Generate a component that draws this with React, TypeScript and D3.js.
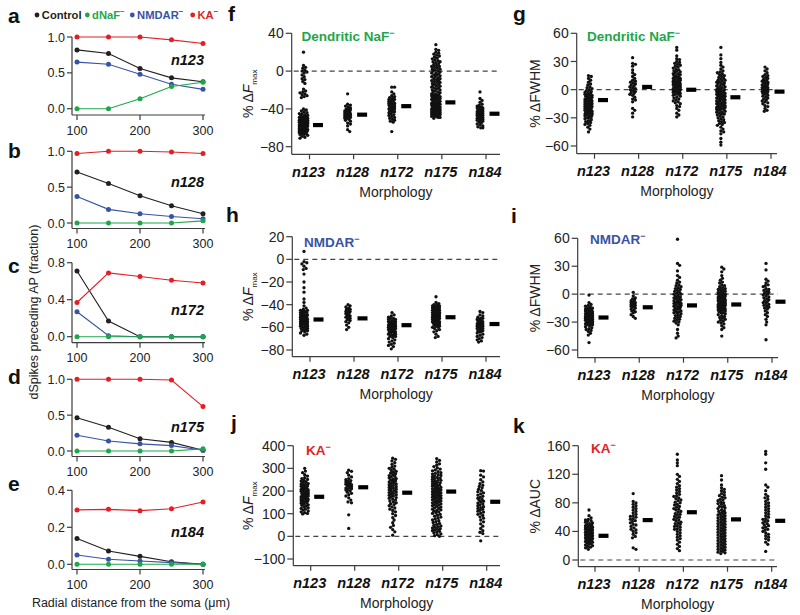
import React, { useEffect } from 'react';
import * as d3 from 'd3';

const FONT = '"Liberation Sans", Arial, Helvetica, sans-serif';

// ---------------- Panels a–e : fraction of dSpikes preceding AP ----------------
const distances = [100, 150, 200, 250, 300];
const distanceTicks = [100, 200, 300];
const legendNames = ['Control', 'dNaF', 'NMDAR', 'KA'];
const legendSup = [false, true, true, true];
const seriesColors = ['#231f20', '#1fa64a', '#3853a4', '#e21f26'];

const n123Control = [0.82, 0.77, 0.56, 0.43, 0.375];
const n123DNaF = [0, 0, 0.14, 0.31, 0.37];
const n123NMDAR = [0.65, 0.62, 0.48, 0.34, 0.27];
const n123KA = [1.0, 1.0, 1.0, 0.96, 0.91];

const n128Control = [0.71, 0.55, 0.38, 0.24, 0.13];
const n128DNaF = [0, 0, 0, 0, 0.03];
const n128NMDAR = [0.37, 0.19, 0.13, 0.09, 0.06];
const n128KA = [0.97, 1.0, 1.0, 0.99, 0.97];

const n172Control = [0.71, 0.17, 0, 0, 0];
const n172DNaF = [0, 0, 0, 0, 0];
const n172NMDAR = [0.27, 0.01, 0, 0, 0];
const n172KA = [0.37, 0.69, 0.65, 0.61, 0.58];

const n175Control = [0.465, 0.33, 0.17, 0.12, 0.01];
const n175DNaF = [0, 0, 0, 0, 0.03];
const n175NMDAR = [0.22, 0.14, 0.1, 0.075, 0.01];
const n175KA = [1.0, 1.0, 1.0, 0.99, 0.62];

const n184Control = [0.139, 0.072, 0.043, 0.014, 0];
const n184DNaF = [0, 0, 0, 0, 0];
const n184NMDAR = [0.05, 0.027, 0.018, 0.009, 0];
const n184KA = [0.294, 0.297, 0.29, 0.3, 0.337];

// ---------------- Panels f–k : strip plots ----------------
const morphologies = ['n123', 'n128', 'n172', 'n175', 'n184'];

const fTicks = [40, 0, -40, -80];
const fN123 = [20, 6, 4, 3, 1, 0, -1, -2, -4, -6, -8, -9, -11, -13, -19, -21, -22, -23, -24, -25, -26, -27, -28, -40, -41, -42, -43, -44, -45, -45, -46, -47, -47, -48, -48, -49, -49, -50, -50, -50, -51, -51, -52, -52, -52, -53, -53, -53, -54, -54, -54, -54, -55, -55, -55, -55, -56, -56, -56, -56, -57, -57, -57, -57, -58, -58, -58, -58, -59, -59, -59, -60, -60, -60, -60, -61, -61, -61, -62, -62, -62, -63, -63, -63, -64, -64, -65, -65, -66, -66, -67, -67, -68, -69, -70, -71];
const fN128 = [-24, -35, -36, -37, -38, -39, -40, -40, -41, -42, -42, -43, -43, -44, -44, -45, -45, -46, -46, -47, -47, -48, -48, -49, -50, -50, -51, -52, -53, -55, -56, -58, -62, -64];
const fN172 = [-17, -17, -22, -24, -26, -27, -28, -29, -30, -30, -31, -32, -32, -33, -34, -34, -35, -35, -36, -36, -37, -37, -38, -38, -39, -39, -40, -40, -41, -41, -42, -43, -43, -44, -45, -46, -47, -48, -49, -50, -51, -52, -53, -54, -64];
const fN175 = [28, 23, 22, 20, 19, 18, 17, 16, 15, 14, 13, 12, 11, 10, 10, 9, 8, 7, 6, 5, 5, 4, 3, 2, 2, 1, 0, 0, -1, -2, -2, -3, -4, -4, -5, -6, -6, -7, -8, -8, -9, -10, -10, -11, -12, -12, -13, -14, -14, -15, -16, -16, -17, -18, -18, -19, -20, -20, -21, -22, -22, -23, -24, -24, -25, -25, -26, -26, -27, -27, -28, -28, -29, -29, -30, -30, -31, -31, -32, -32, -33, -33, -34, -34, -35, -35, -35, -36, -36, -37, -37, -37, -38, -38, -39, -39, -39, -40, -40, -40, -41, -41, -41, -42, -42, -42, -43, -43, -43, -44, -44, -44, -45, -45, -45, -46, -46, -46, -47, -47, -48, -48, -49, -49, -50];
const fN184 = [-22, -29, -31, -33, -35, -36, -37, -38, -38, -39, -39, -40, -40, -41, -41, -42, -42, -42, -43, -43, -43, -44, -44, -44, -45, -45, -45, -46, -46, -46, -47, -47, -47, -48, -48, -49, -49, -50, -50, -51, -51, -52, -52, -53, -54, -55, -56, -57, -58, -59, -60, -60];
const fMeans = [-57, -46, -37, -33, -45];

const gTicks = [60, 30, 0, -30, -60];
const gN123 = [15, 14, 12, 10, 8, 6, 5, 3, 2, 1, 0, -1, -2, -3, -3, -4, -5, -5, -6, -6, -7, -7, -8, -8, -9, -9, -10, -10, -10, -11, -11, -12, -12, -12, -13, -13, -14, -14, -14, -15, -15, -15, -16, -16, -16, -17, -17, -18, -18, -18, -19, -19, -20, -20, -20, -21, -21, -22, -22, -23, -23, -24, -24, -25, -25, -26, -26, -27, -27, -28, -28, -29, -30, -30, -31, -32, -33, -34, -35, -36, -37, -38, -40, -42, -45];
const gN128 = [34, 28, 27, 25, 21, 18, 16, 14, 12, 10, 9, 8, 7, 6, 5, 4, 3, 2, 1, 0, -1, -2, -3, -4, -5, -6, -8, -10, -11, -13, -20, -22, -25, -29];
const gN172 = [45, 42, 36, 33, 32, 30, 29, 28, 27, 26, 25, 24, 23, 22, 21, 20, 20, 19, 18, 17, 17, 16, 15, 15, 14, 13, 13, 12, 12, 11, 10, 10, 9, 9, 8, 8, 7, 7, 6, 6, 5, 5, 4, 4, 3, 3, 2, 2, 1, 1, 0, 0, -1, -1, -2, -2, -3, -3, -4, -5, -5, -6, -7, -8, -9, -10, -11, -12, -13, -14, -15, -17, -18, -20, -22, -25, -27, -29];
const gN175 = [45, 37, 33, 29, 26, 24, 22, 20, 19, 18, 17, 16, 15, 14, 13, 12, 11, 10, 10, 9, 8, 8, 7, 6, 6, 5, 4, 4, 3, 2, 2, 1, 0, 0, -1, -1, -2, -2, -3, -3, -4, -4, -5, -5, -6, -6, -7, -7, -8, -8, -9, -9, -10, -10, -11, -11, -12, -12, -13, -13, -14, -14, -15, -15, -16, -16, -17, -17, -18, -18, -19, -19, -20, -20, -21, -21, -22, -22, -23, -24, -24, -25, -26, -26, -27, -28, -29, -30, -31, -32, -33, -34, -35, -36, -37, -38, -40, -42, -44, -45, -47, -52, -56, -59];
const gN184 = [24, 22, 20, 18, 16, 15, 14, 13, 12, 11, 10, 9, 9, 8, 7, 7, 6, 5, 5, 4, 3, 3, 2, 2, 1, 1, 0, 0, -1, -1, -2, -2, -3, -4, -4, -5, -6, -7, -8, -9, -10, -11, -12, -13, -14, -15, -17, -18, -20, -22, -23];
const gMeans = [-11, 3, 0, -8, -2];

const hTicks = [20, 0, -20, -40, -60, -80];
const hN123 = [7, -2, -3, -4, -6, -8, -9, -13, -20, -25, -29, -35, -38, -41, -43, -44, -45, -45, -46, -46, -47, -47, -48, -48, -49, -49, -49, -50, -50, -50, -51, -51, -51, -52, -52, -52, -53, -53, -53, -54, -54, -54, -55, -55, -55, -56, -56, -56, -57, -57, -57, -58, -58, -58, -59, -59, -60, -60, -61, -61, -62, -62, -63, -63, -64, -65, -66, -67];
const hN128 = [-40, -41, -42, -43, -44, -44, -45, -46, -46, -47, -47, -48, -49, -49, -50, -51, -51, -52, -53, -53, -54, -55, -56, -58, -60, -62];
const hN172 = [-47, -49, -50, -51, -52, -52, -53, -53, -54, -54, -55, -55, -55, -56, -56, -56, -57, -57, -57, -58, -58, -58, -58, -59, -59, -59, -59, -60, -60, -60, -60, -61, -61, -61, -61, -62, -62, -62, -63, -63, -63, -64, -64, -64, -65, -65, -66, -66, -67, -67, -68, -68, -69, -70, -71, -72, -73, -74, -75, -76, -77, -79];
const hN175 = [-33, -38, -39, -40, -40, -41, -41, -42, -42, -42, -43, -43, -43, -44, -44, -44, -45, -45, -45, -45, -46, -46, -46, -46, -47, -47, -47, -47, -48, -48, -48, -48, -49, -49, -49, -49, -50, -50, -50, -50, -51, -51, -51, -51, -52, -52, -52, -52, -53, -53, -53, -53, -54, -54, -54, -55, -55, -55, -56, -56, -56, -57, -57, -58, -58, -59, -59, -60, -60, -61, -62, -63, -64, -66, -68, -69];
const hN184 = [-46, -47, -49, -50, -51, -52, -52, -53, -53, -54, -54, -55, -55, -56, -56, -57, -57, -58, -58, -58, -59, -59, -60, -60, -61, -61, -62, -62, -63, -63, -64, -64, -65, -66, -67, -68, -69, -70, -71, -72, -73];
const hMeans = [-53, -52, -58, -51, -57];

const iTicks = [60, 30, 0, -30, -60];
const iN123 = [-1, -9, -11, -12, -13, -14, -15, -15, -16, -16, -17, -17, -18, -18, -18, -19, -19, -19, -20, -20, -20, -21, -21, -21, -22, -22, -22, -23, -23, -23, -24, -24, -24, -25, -25, -25, -26, -26, -26, -27, -27, -27, -28, -28, -28, -29, -29, -30, -30, -31, -31, -32, -32, -33, -33, -34, -35, -36, -37, -38, -39, -40, -42, -44, -52];
const iN128 = [2, -2, -4, -5, -6, -7, -8, -9, -9, -10, -10, -11, -11, -12, -12, -13, -13, -14, -15, -16, -17, -18, -19, -20, -22, -24, -26];
const iN172 = [59, 33, 31, 25, 20, 18, 15, 13, 12, 10, 9, 8, 7, 6, 5, 4, 3, 2, 1, 0, 0, -1, -2, -3, -3, -4, -5, -5, -6, -7, -7, -8, -9, -9, -10, -10, -11, -12, -12, -13, -14, -14, -15, -16, -16, -17, -18, -18, -19, -20, -20, -21, -22, -23, -24, -25, -26, -27, -28, -29, -30, -31, -33, -38, -42, -45, -47];
const iN175 = [29, 27, 24, 20, 17, 15, 13, 12, 10, 9, 8, 7, 6, 5, 5, 4, 3, 3, 2, 1, 1, 0, 0, -1, -1, -2, -2, -3, -3, -4, -4, -5, -5, -6, -6, -7, -7, -8, -8, -9, -9, -10, -10, -11, -11, -12, -12, -13, -13, -14, -14, -15, -15, -16, -16, -17, -17, -18, -18, -19, -20, -20, -21, -22, -23, -24, -25, -26, -27, -28, -29, -30, -31, -32, -34, -36, -38, -45];
const iN184 = [33, 26, 16, 14, 12, 10, 9, 8, 6, 5, 4, 3, 2, 1, 0, -1, -2, -3, -4, -5, -6, -7, -8, -9, -10, -11, -12, -13, -14, -15, -16, -18, -20, -22, -24, -27, -30, -33, -49];
const iMeans = [-25, -14, -12, -11, -8];

const jTicks = [400, 300, 200, 100, 0, -100];
const jN123 = [300, 288, 281, 272, 266, 259, 255, 251, 247, 244, 240, 238, 233, 231, 229, 226, 222, 221, 218, 214, 212, 211, 207, 205, 203, 200, 199, 196, 193, 192, 189, 187, 185, 183, 181, 178, 177, 175, 172, 171, 168, 166, 163, 161, 160, 157, 155, 152, 150, 147, 146, 142, 139, 137, 133, 130, 126, 123, 120, 116, 112, 108, 104, 101, 99];
const jN128 = [292, 287, 281, 270, 262, 255, 250, 246, 243, 240, 236, 233, 230, 228, 225, 222, 219, 216, 213, 210, 207, 204, 200, 195, 190, 184, 178, 170, 160, 152, 148, 95, 35];
const jN172 = [345, 340, 333, 325, 318, 310, 305, 300, 296, 291, 287, 283, 279, 276, 272, 268, 265, 262, 258, 255, 252, 249, 245, 243, 240, 237, 234, 231, 228, 225, 222, 219, 216, 213, 211, 208, 205, 202, 199, 196, 193, 190, 187, 184, 181, 178, 175, 171, 168, 164, 160, 156, 152, 148, 144, 140, 135, 130, 125, 120, 114, 108, 100, 92, 83, 72, 60, 48, 40, 30, 20, 5];
const jN175 = [343, 335, 328, 320, 314, 308, 302, 297, 293, 289, 285, 281, 278, 275, 272, 269, 266, 263, 260, 257, 255, 252, 249, 247, 244, 242, 239, 236, 234, 231, 229, 226, 224, 221, 219, 216, 214, 211, 209, 207, 204, 202, 199, 197, 195, 192, 190, 188, 185, 183, 180, 178, 176, 173, 171, 168, 166, 163, 161, 158, 156, 153, 151, 148, 146, 143, 140, 138, 135, 132, 129, 126, 123, 120, 117, 114, 111, 108, 104, 101, 97, 93, 89, 85, 81, 77, 73, 69, 65, 61, 57, 53, 49, 46, 43, 40, 37, 34, 31, 28, 25, 22, 19, 15, 11, 7, 3, 0];
const jN184 = [290, 288, 270, 262, 250, 240, 232, 225, 220, 214, 208, 202, 197, 192, 187, 182, 177, 172, 168, 163, 159, 155, 151, 147, 143, 139, 135, 131, 127, 123, 119, 115, 111, 107, 102, 97, 92, 86, 80, 72, 64, 55, 45, 35, 25, 18, 12, -20];
const jMeans = [175, 217, 193, 198, 153];

const kTicks = [160, 120, 80, 40, 0];
const kN123 = [70, 62, 59, 57, 56, 55, 54, 53, 52, 51, 50, 49, 48, 48, 47, 46, 46, 45, 44, 44, 43, 43, 42, 42, 41, 41, 40, 40, 39, 39, 38, 38, 37, 37, 36, 36, 35, 35, 34, 34, 33, 33, 32, 32, 31, 31, 30, 30, 29, 29, 28, 27, 27, 26, 25, 25, 24, 23, 22, 21, 20, 19, 18, 17, 15];
const kN128 = [93, 82, 80, 78, 76, 74, 72, 70, 68, 66, 64, 62, 61, 60, 58, 57, 55, 54, 52, 50, 49, 47, 45, 43, 42, 40, 38, 36, 33, 31, 17, 15];
const kN172 = [148, 140, 136, 132, 120, 117, 113, 110, 107, 104, 102, 100, 98, 96, 94, 92, 90, 89, 87, 86, 84, 83, 81, 80, 78, 77, 75, 74, 72, 71, 70, 68, 67, 65, 64, 63, 61, 60, 59, 57, 56, 55, 53, 52, 51, 50, 48, 47, 46, 44, 43, 42, 40, 38, 36, 34, 32, 30, 28, 25, 22, 19, 16, 13];
const kN175 = [118, 112, 105, 101, 99, 97, 95, 93, 91, 90, 88, 87, 85, 84, 83, 81, 80, 79, 78, 76, 75, 74, 73, 72, 70, 69, 68, 67, 66, 65, 64, 63, 62, 61, 60, 59, 58, 57, 56, 55, 54, 53, 52, 51, 50, 49, 48, 47, 46, 45, 44, 43, 42, 41, 40, 39, 38, 37, 36, 35, 34, 33, 32, 31, 30, 29, 28, 27, 26, 25, 24, 23, 22, 21, 20, 19, 18, 17, 16, 15, 14, 13, 12, 11, 10, 9];
const kN184 = [152, 148, 136, 127, 105, 102, 97, 92, 89, 87, 85, 82, 80, 78, 76, 74, 72, 70, 68, 66, 64, 62, 60, 58, 57, 55, 54, 52, 51, 49, 48, 46, 45, 43, 42, 40, 38, 36, 34, 32, 30, 28, 25, 22, 12];
const kMeans = [34, 56, 67, 57, 55];

// ---------------- helpers ----------------
const AXIS = '#3c3c3c';
const fmt = (v: number, dec = 0) => (v < 0 ? '\u2212' : '') + Math.abs(v).toFixed(dec);

function swarm(vals: number[], y: (v: number) => number, r: number, half: number) {
  const pts = vals.map((v) => ({ y: y(v), x: 0 })).sort((a, b) => a.y - b.y);
  const cands: number[] = [0];
  for (let k = 0.7; k <= half + 0.01; k += 0.7) cands.push(k, -k);
  const placed: { x: number; y: number }[] = [];
  for (const p of pts) {
    let bestX = 0;
    let bestScore = -Infinity;
    for (const cx of cands) {
      let minD = Infinity;
      for (let j = placed.length - 1; j >= 0; j--) {
        const q = placed[j];
        if (p.y - q.y > 2 * r + 1) break;
        const d = Math.hypot(cx - q.x, p.y - q.y);
        if (d < minD) minD = d;
      }
      if (minD >= 2 * r * 0.85) {
        bestX = cx;
        break;
      }
      if (minD > bestScore) {
        bestScore = minD;
        bestX = cx;
      }
    }
    p.x = bestX;
    placed.push(p);
  }
  return placed;
}

function Sup({ children, size = 9 }: { children: React.ReactNode; size?: number }) {
  return (
    <tspan fontSize={size} dy={-5}>
      {children}
    </tspan>
  );
}

// ---------------- Left panel ----------------
type LeftProps = {
  letter: string;
  letterY: number;
  name: string;
  nameY: number;
  yMax: number;
  yTicks: number[];
  y0: number;
  yTop: number;
  axisY: number;
  series: number[][];
};

function LeftPanel({ letter, letterY, name, nameY, yMax, yTicks, y0, yTop, axisY, series }: LeftProps) {
  const x = d3.scaleLinear().domain([100, 300]).range([77, 203]);
  const y = d3.scaleLinear().domain([0, yMax]).range([y0, yTop]);
  const axX = 72;
  const line = d3
    .line<number>()
    .x((_, i) => x(distances[i]))
    .y((d) => y(d));
  const order = [0, 2, 1, 3];
  return (
    <g>
      <text x={8} y={letterY} fontSize={21} fontWeight="bold" fill="#111">
        {letter}
      </text>
      <line x1={axX} x2={axX} y1={y(yTicks[yTicks.length - 1])} y2={axisY} stroke={AXIS} strokeWidth={1.2} />
      <line x1={axX} x2={205} y1={axisY} y2={axisY} stroke={AXIS} strokeWidth={1.2} />
      {yTicks.map((t) => (
        <g key={t}>
          <line x1={axX - 5} x2={axX} y1={y(t)} y2={y(t)} stroke={AXIS} strokeWidth={1.2} />
          <text x={axX - 7} y={y(t)} dy="0.36em" textAnchor="end" fontSize={12.5} fill="#222">
            {t.toFixed(1)}
          </text>
        </g>
      ))}
      {distanceTicks.map((t) => (
        <g key={t}>
          <line x1={x(t)} x2={x(t)} y1={axisY} y2={axisY + 5} stroke={AXIS} strokeWidth={1.2} />
          <text x={x(t)} y={axisY + 19.5} textAnchor="middle" fontSize={12.5} fill="#222">
            {t}
          </text>
        </g>
      ))}
      {order.map((si) => (
        <g key={si}>
          <path d={line(series[si]) || ''} fill="none" stroke={seriesColors[si]} strokeWidth={1.1} />
          {series[si].map((v, i) => (
            <circle key={i} cx={x(distances[i])} cy={y(v)} r={2.5} fill={seriesColors[si]} />
          ))}
        </g>
      ))}
      <text x={204} y={nameY} textAnchor="end" fontSize={14.5} fontWeight="bold" fontStyle="italic" fill="#111">
        {name}
      </text>
    </g>
  );
}

// ---------------- Strip panel ----------------
type StripProps = {
  letter: string;
  letterX: number;
  letterY: number;
  title: string;
  titleColor: string;
  titleX: number;
  titleY: number;
  yLabel: 'Fmax' | 'FWHM' | 'AUC';
  yLabelX: number;
  axisX: number;
  axisEnd: number;
  catRange: [number, number];
  ticks: number[];
  tickRange: [number, number];
  axisY: number;
  strips: number[][];
  means: number[];
};

function StripPanel(p: StripProps) {
  const y = d3
    .scaleLinear()
    .domain([p.ticks[0], p.ticks[p.ticks.length - 1]])
    .range(p.tickRange);
  const x = d3.scalePoint<string>().domain(morphologies).range(p.catRange);
  const yMid = (p.tickRange[0] + p.axisY) / 2;
  const r = 1.65;
  return (
    <g>
      <text x={p.letterX} y={p.letterY} fontSize={21} fontWeight="bold" fill="#111">
        {p.letter}
      </text>
      <text x={p.titleX} y={p.titleY} fontSize={13.5} fontWeight="bold" fill={p.titleColor}>
        {p.title}
        <Sup>−</Sup>
      </text>
      <line x1={p.axisX} x2={p.axisX} y1={p.tickRange[0]} y2={p.axisY} stroke={AXIS} strokeWidth={1.2} />
      <line x1={p.axisX} x2={p.axisEnd} y1={p.axisY} y2={p.axisY} stroke={AXIS} strokeWidth={1.2} />
      <line
        x1={p.axisX + 2}
        x2={p.axisEnd}
        y1={y(0)}
        y2={y(0)}
        stroke="#444"
        strokeWidth={1.1}
        strokeDasharray="5,4"
      />
      {p.ticks.map((t) => (
        <g key={t}>
          <line x1={p.axisX - 6} x2={p.axisX} y1={y(t)} y2={y(t)} stroke={AXIS} strokeWidth={1.2} />
          <text x={p.axisX - 8} y={y(t)} dy="0.36em" textAnchor="end" fontSize={14} fill="#222">
            {fmt(t)}
          </text>
        </g>
      ))}
      {morphologies.map((m, i) => {
        const cx = x(m) as number;
        const pts = swarm(p.strips[i], y, r, Math.min(4.5, 2 + p.strips[i].length / 40));
        return (
          <g key={m}>
            <line x1={cx} x2={cx} y1={p.axisY} y2={p.axisY + 5} stroke={AXIS} strokeWidth={1.2} />
            <text
              x={cx - 1}
              y={p.axisY + 22.5}
              textAnchor="middle"
              fontSize={14.5}
              fontWeight="bold"
              fontStyle="italic"
              fill="#111"
            >
              {m}
            </text>
            {pts.map((q, k) => (
              <circle key={k} cx={cx - 6 + q.x} cy={q.y} r={r} fill="#111" />
            ))}
            <rect x={cx + 3.5} y={y(p.means[i]) - 2} width={10} height={4.2} fill="#000" />
          </g>
        );
      })}
      <text
        x={(p.axisX + p.axisEnd) / 2}
        y={p.axisY + 42.5}
        textAnchor="middle"
        fontSize={14}
        fill="#222"
      >
        Morphology
      </text>
      <text
        transform={`translate(${p.yLabelX},${yMid}) rotate(-90)`}
        textAnchor="middle"
        dy="0.36em"
        fontSize={14}
        fill="#222"
      >
        {p.yLabel === 'Fmax' ? (
          <>
            % Δ<tspan fontStyle="italic">F</tspan>
            <tspan fontSize={8} dy={4}>
              max
            </tspan>
          </>
        ) : p.yLabel === 'FWHM' ? (
          '% ΔFWHM'
        ) : (
          '% ΔAUC'
        )}
      </text>
    </g>
  );
}

export default function App() {
  useEffect(() => {
    document.body.style.margin = '0';
  }, []);

  const legendX = [37, 87.3, 132.3, 192.7];
  const titleGreen = '#1fa64a';
  const titleBlue = '#3853a4';
  const titleRed = '#e21f26';

  return (
    <svg width={800} height={615} style={{ display: 'block', background: '#fff' }} fontFamily={FONT}>
      {/* legend */}
      {legendNames.map((n, i) => (
        <g key={n}>
          <circle cx={legendX[i]} cy={15} r={2.4} fill={seriesColors[i]} />
          <text x={legendX[i] + 4.8} y={19} fontSize={11.2} fontWeight="bold" fill={seriesColors[i]}>
            {n}
            {legendSup[i] ? <Sup size={8}>−</Sup> : null}
          </text>
        </g>
      ))}

      <LeftPanel
        letter="a"
        letterY={23}
        name="n123"
        nameY={65}
        yMax={1}
        yTicks={[0, 0.5, 1.0]}
        y0={108.7}
        yTop={37}
        axisY={115}
        series={[n123Control, n123DNaF, n123NMDAR, n123KA]}
      />
      <LeftPanel
        letter="b"
        letterY={158}
        name="n128"
        nameY={187}
        yMax={1}
        yTicks={[0, 0.5, 1.0]}
        y0={223}
        yTop={151.3}
        axisY={228.5}
        series={[n128Control, n128DNaF, n128NMDAR, n128KA]}
      />
      <LeftPanel
        letter="c"
        letterY={273}
        name="n172"
        nameY={315}
        yMax={0.8}
        yTicks={[0, 0.4, 0.8]}
        y0={336.7}
        yTop={262.7}
        axisY={342.7}
        series={[n172Control, n172DNaF, n172NMDAR, n172KA]}
      />
      <LeftPanel
        letter="d"
        letterY={384}
        name="n175"
        nameY={432}
        yMax={1}
        yTicks={[0, 0.5, 1.0]}
        y0={451}
        yTop={379.3}
        axisY={456.5}
        series={[n175Control, n175DNaF, n175NMDAR, n175KA]}
      />
      <LeftPanel
        letter="e"
        letterY={491}
        name="n184"
        nameY={537}
        yMax={0.4}
        yTicks={[0, 0.2, 0.4]}
        y0={564.3}
        yTop={490.3}
        axisY={569.5}
        series={[n184Control, n184DNaF, n184NMDAR, n184KA]}
      />
      <text
        transform="translate(33,312) rotate(-90)"
        textAnchor="middle"
        dy="0.36em"
        fontSize={12.5}
        fill="#222"
      >
        dSpikes preceding AP (fraction)
      </text>
      <text x={131} y={607} textAnchor="middle" fontSize={12.5} fill="#222">
        Radial distance from the soma (μm)
      </text>

      <StripPanel
        letter="f"
        letterX={228}
        letterY={21}
        title="Dendritic NaF"
        titleColor={titleGreen}
        titleX={301.5}
        titleY={41}
        yLabel="Fmax"
        yLabelX={248}
        axisX={291.7}
        axisEnd={500}
        catRange={[309.5, 486]}
        ticks={fTicks}
        tickRange={[33.3, 146.7]}
        axisY={154.3}
        strips={[fN123, fN128, fN172, fN175, fN184]}
        means={fMeans}
      />
      <StripPanel
        letter="g"
        letterX={513}
        letterY={21}
        title="Dendritic NaF"
        titleColor={titleGreen}
        titleX={587}
        titleY={41}
        yLabel="FWHM"
        yLabelX={535}
        axisX={576.7}
        axisEnd={777}
        catRange={[594.5, 771]}
        ticks={gTicks}
        tickRange={[33.3, 146]}
        axisY={153.7}
        strips={[gN123, gN128, gN172, gN175, gN184]}
        means={gMeans}
      />
      <StripPanel
        letter="h"
        letterX={226}
        letterY={222}
        title="NMDAR"
        titleColor={titleBlue}
        titleX={304}
        titleY={246.5}
        yLabel="Fmax"
        yLabelX={248}
        axisX={292.3}
        axisEnd={500}
        catRange={[310, 486]}
        ticks={hTicks}
        tickRange={[236.7, 350]}
        axisY={356.7}
        strips={[hN123, hN128, hN172, hN175, hN184]}
        means={hMeans}
      />
      <StripPanel
        letter="i"
        letterX={511}
        letterY={223}
        title="NMDAR"
        titleColor={titleBlue}
        titleX={590}
        titleY={243.5}
        yLabel="FWHM"
        yLabelX={535}
        axisX={577.7}
        axisEnd={778}
        catRange={[595, 772]}
        ticks={iTicks}
        tickRange={[238.3, 350]}
        axisY={357.7}
        strips={[iN123, iN128, iN172, iN175, iN184]}
        means={iMeans}
      />
      <StripPanel
        letter="j"
        letterX={231}
        letterY={430}
        title="KA"
        titleColor={titleRed}
        titleX={306}
        titleY={455}
        yLabel="Fmax"
        yLabelX={248}
        axisX={293.3}
        axisEnd={500}
        catRange={[310.7, 486.7]}
        ticks={jTicks}
        tickRange={[445.7, 559]}
        axisY={565.7}
        strips={[jN123, jN128, jN172, jN175, jN184]}
        means={jMeans}
      />
      <StripPanel
        letter="k"
        letterX={513}
        letterY={433}
        title="KA"
        titleColor={titleRed}
        titleX={591}
        titleY={453}
        yLabel="AUC"
        yLabelX={535}
        axisX={578.3}
        axisEnd={777}
        catRange={[595, 771.7]}
        ticks={kTicks}
        tickRange={[445.7, 560]}
        axisY={566.7}
        strips={[kN123, kN128, kN172, kN175, kN184]}
        means={kMeans}
      />
    </svg>
  );
}
